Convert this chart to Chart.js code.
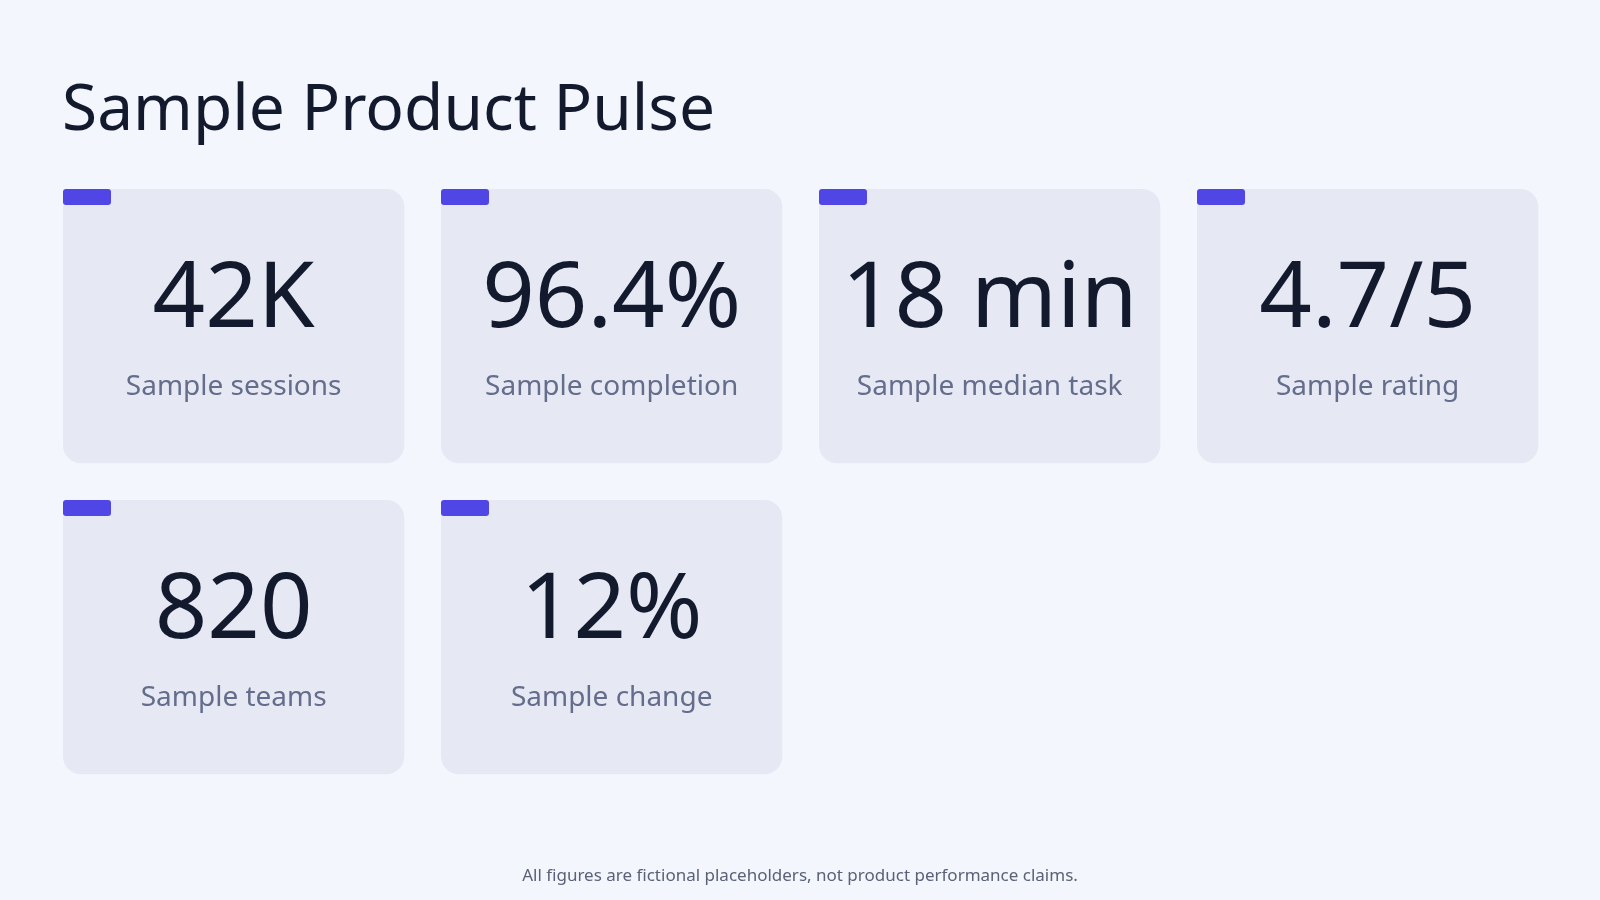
<!DOCTYPE html>
<html>
<head>
<meta charset="utf-8">
<script src="https://cdn.jsdelivr.net/npm/chart.js@4"></script>
<style>
  html, body { margin: 0; padding: 0; background: #f3f6fd; }
  #wrap { width: 1600px; height: 900px; position: relative; }
</style>
</head>
<body>
<div id="wrap"><canvas id="pulse"></canvas></div>
<script>
// KPI cards
const kpiValues = ['42K', '96.4%', '18 min', '4.7/5', '820', '12%'];
const kpiLabels = ['Sample sessions', 'Sample completion', 'Sample median task', 'Sample rating', 'Sample teams', 'Sample change'];
const kpiCols = [0, 1, 2, 3, 0, 1];
const kpiRows = [0, 0, 0, 0, 1, 1];

const FONT = "'Noto Sans', sans-serif";

function roundRect(ctx, x, y, w, h, r) {
    ctx.beginPath();
    ctx.roundRect(x, y, w, h, r);
    ctx.fill();
}

const cardsPlugin = {
    id: 'cards',
    afterDraw(chart) {
        const ctx = chart.ctx;
        const xs = chart.scales.x, ys = chart.scales.y;
        ctx.save();

        // Title
        ctx.fillStyle = '#141a2e';
        ctx.font = `400 64px ${FONT}`;
        ctx.textAlign = 'left';
        ctx.textBaseline = 'alphabetic';
        ctx.fillText('Sample Product Pulse', 62, 130);

        kpiValues.forEach((v, i) => {
            const x0 = xs.getPixelForValue(kpiCols[i]);
            const x1 = xs.getPixelForValue(kpiCols[i] + 0.903);
            const y0 = ys.getPixelForValue(kpiRows[i]);
            const y1 = ys.getPixelForValue(kpiRows[i] + 0.882);
            const w = x1 - x0, h = y1 - y0;

            ctx.fillStyle = '#e6e9f3';
            roundRect(ctx, x0, y0, w, h, 18);

            ctx.fillStyle = '#4f46e5';
            roundRect(ctx, x0, y0, 48, 16, 3);

            const cx = x0 + w / 2;
            ctx.textAlign = 'center';
            ctx.textBaseline = 'middle';
            ctx.fillStyle = '#141a2e';
            ctx.font = `400 92px ${FONT}`;
            ctx.fillText(v, cx, y0 + 112);

            ctx.fillStyle = '#656d8c';
            ctx.font = `400 28px ${FONT}`;
            ctx.fillText(kpiLabels[i], cx, y0 + 198);
        });

        // Footnote
        ctx.fillStyle = '#5a6178';
        ctx.font = `400 17px ${FONT}`;
        ctx.textAlign = 'center';
        ctx.textBaseline = 'middle';
        ctx.fillText('All figures are fictional placeholders, not product performance claims.', 800, 876);

        ctx.restore();
    }
};

new Chart(document.getElementById('pulse'), {
    type: 'scatter',
    data: { datasets: [{ data: [] }] },
    options: {
        responsive: true,
        maintainAspectRatio: false,
        animation: false,
        layout: { padding: { left: 63, top: 189, right: 25, bottom: 89 } },
        plugins: { legend: { display: false }, tooltip: { enabled: false } },
        scales: {
            x: { type: 'linear', min: 0, max: 4, display: false },
            y: { type: 'linear', min: 0, max: 2, reverse: true, display: false }
        }
    },
    plugins: [cardsPlugin]
});
</script>
</body>
</html>
